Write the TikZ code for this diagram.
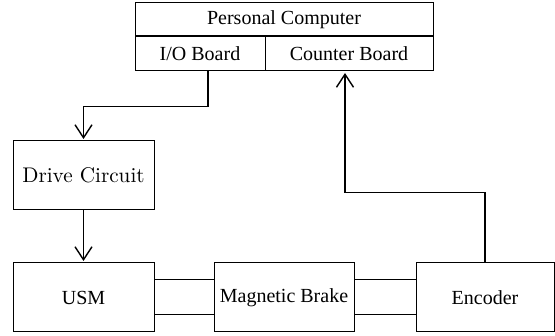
\documentclass[tikz,border=0pt]{standalone}
\usepackage{fontspec}
\setmainfont{Liberation Serif}
\newfontfamily\lmfont{lmroman10-regular.otf}
\usetikzlibrary{arrows.meta}
\begin{document}
\begin{tikzpicture}[x=1pt,y=-1pt,
  blk/.style={draw,line width=1pt,inner sep=0pt,font=\fontsize{20}{24}\selectfont},
  lmblk/.style={draw,line width=1pt,inner sep=0pt,font=\lmfont\fontsize{21.2}{25}\selectfont},
  arr/.style={line width=1.4pt,-{Straight Barb[length=13pt,width=17pt,line width=1.4pt]},shorten >=1.5pt},
  lnk/.style={line width=1pt}]
\useasboundingbox (0,0) rectangle (555,336);
\node[blk,minimum width=298pt,minimum height=34pt] (pc) at (284,19.5) {Personal Computer};
\node[blk,minimum width=130pt,minimum height=35pt] (io) at (200,53.5) {I/O Board};
\node[blk,minimum width=168pt,minimum height=35pt] (cb) at (349,53.5) {Counter Board};
\node[lmblk,minimum width=141pt,minimum height=69pt] (drive) at (83.5,175.5) {Drive Circuit};
\node[blk,minimum width=141pt,minimum height=69pt] (usm) at (83.5,297.5) {USM};
\node[blk,minimum width=140pt,minimum height=69pt] (mb) at (284,297.5) {Magnetic Brake};
\node[blk,minimum width=138pt,minimum height=69pt] (enc) at (485,297.5) {Encoder};
\draw[arr] ([xshift=8pt]io.south) -- ++(0,35) -| (drive.north);
\draw[arr] (drive.south) -- (usm.north);
\draw[lnk] ([yshift=17.5pt]usm.east) -- ([yshift=17.5pt]mb.west);
\draw[lnk] ([yshift=-17.5pt]usm.east) -- ([yshift=-17.5pt]mb.west);
\draw[lnk] ([yshift=17.5pt]mb.east) -- ([yshift=17.5pt]enc.west);
\draw[lnk] ([yshift=-17.5pt]mb.east) -- ([yshift=-17.5pt]enc.west);
\draw[arr] (enc.north) -- ++(0,-70) -| ([xshift=-4pt]cb.south);
\end{tikzpicture}
\end{document}
